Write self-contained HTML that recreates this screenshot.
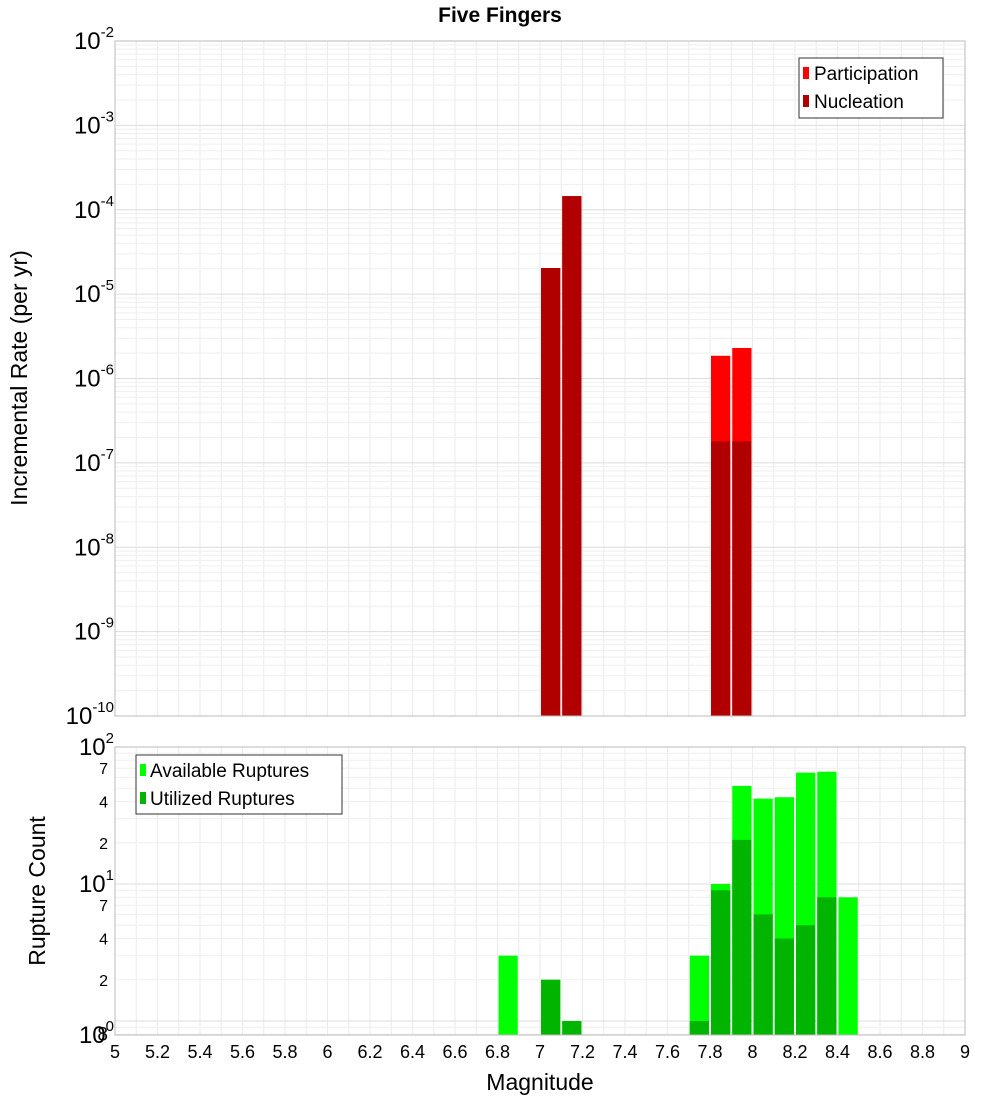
<!DOCTYPE html>
<html><head><meta charset="utf-8"><style>
body{margin:0;background:#fff;}
svg{display:block;font-family:"Liberation Sans","DejaVu Sans",sans-serif;}
</style></head><body>
<svg id="c" width="1000" height="1100" xmlns="http://www.w3.org/2000/svg">
<text x="500" y="22" text-anchor="middle" font-size="21" font-weight="bold">Five Fingers</text>
<g id="topPanel"></g>
<g id="botPanel"></g>
<text transform="translate(27,378) rotate(-90)" text-anchor="middle" font-size="23">Incremental Rate (per yr)</text>
<text transform="translate(45,891) rotate(-90)" text-anchor="middle" font-size="23">Rupture Count</text>
<text x="540" y="1090" text-anchor="middle" font-size="23">Magnitude</text>
<g>
<rect x="799" y="58" width="144" height="60" fill="#fff" stroke="#333"/>
<rect x="803" y="67" width="6" height="12" fill="#ff0000"/><text x="814" y="80" font-size="19">Participation</text>
<rect x="803" y="95" width="6" height="12" fill="#b00000"/><text x="814" y="108" font-size="19">Nucleation</text>
</g>
<g>
<rect x="136" y="755" width="206" height="59" fill="#fff" stroke="#333"/>
<rect x="140" y="764" width="6" height="12" fill="#00ff00"/><text x="150" y="777" font-size="19">Available Ruptures</text>
<rect x="140" y="792" width="6" height="12" fill="#00b400"/><text x="150" y="805" font-size="19">Utilized Ruptures</text>
</g>
</svg>
<script>
const rateMags=[7.05,7.15,7.85,7.95];
const participation=[2.04e-5,1.45e-4,1.86e-6,2.3e-6];
const nucleation=[2.04e-5,1.45e-4,1.8e-7,1.8e-7];
const countMags=[6.85,7.05,7.15,7.75,7.85,7.95,8.05,8.15,8.25,8.35,8.45];
const available=[3,2,1,3,10,52,42,43,65,66,8];
const utilized=[0,2,1,1,9,21,6,4,5,8,0];
const xTicks=[5,5.2,5.4,5.6,5.8,6,6.2,6.4,6.6,6.8,7,7.2,7.4,7.6,7.8,8,8.2,8.4,8.6,8.8,9];
const rateDecades=[-10,-9,-8,-7,-6,-5,-4,-3,-2];
const NS="http://www.w3.org/2000/svg";
const X0=115,X1=965;
const xs=m=>X0+(m-5)/4*(X1-X0);
const TY0=41,TY1=716;
const ty=v=>TY0+(-2-Math.log10(v))*(TY1-TY0)/8;
const BY0=747,BY1=1035,BD=137;
const by=v=>BY0+(2-Math.log10(v))*BD;
function mk(p,tag,a,name){const e=document.createElementNS(NS,tag);for(const k in a)e.setAttribute(k,a[k]);


p.appendChild(e);return e;}
const topG=document.getElementById('topPanel'),botG=document.getElementById('botPanel');
function panel(g,y0,y1){
 mk(g,'rect',{x:X0,y:y0,width:X1-X0,height:y1-y0,fill:'#fff'},'plot-area');
 for(let m=5;m<=9.001;m+=0.1)mk(g,'line',{x1:xs(m),x2:xs(m),y1:y0,y2:y1,stroke:'#ebebeb'},'x-grid-line');
}
panel(topG,TY0,TY1);panel(botG,BY0,BY1);
for(let d=-10;d<-2;d++)for(let k=1;k<10;k++){const y=ty(k*Math.pow(10,d));
 mk(topG,'line',{x1:X0,x2:X1,y1:y,y2:y,stroke:k==1?'#dcdcdc':'#efefef'},'y-grid-line');}
for(let d=-1;d<2;d++)for(let k=1;k<10;k++){const y=by(k*Math.pow(10,d));if(y>BY1||y<BY0)continue;
 mk(botG,'line',{x1:X0,x2:X1,y1:y,y2:y,stroke:k==1?'#dcdcdc':'#efefef'},'y-grid-line');}
const bw=xs(5.1)-X0-2;
rateMags.forEach((m,i)=>{
 const x=xs(m-0.05)+1;
 mk(topG,'rect',{x:x,y:ty(participation[i]),width:bw,height:TY1-ty(participation[i]),fill:'#ff0000'},'participation-bar');
 mk(topG,'rect',{x:x,y:ty(nucleation[i]),width:bw,height:TY1-ty(nucleation[i]),fill:'#b00000'},'nucleation-bar');
});
countMags.forEach((m,i)=>{
 const x=xs(m-0.05)+1;
 if(available[i]>0)mk(botG,'rect',{x:x,y:by(available[i]),width:bw,height:BY1-by(available[i]),fill:'#00ff00'},'available-bar');
 if(utilized[i]>0)mk(botG,'rect',{x:x,y:by(utilized[i]),width:bw,height:BY1-by(utilized[i]),fill:'#00b400'},'utilized-bar');
});
mk(topG,'rect',{x:X0,y:TY0,width:X1-X0,height:TY1-TY0,fill:'none',stroke:'#bbb'},'plot-border');
mk(botG,'rect',{x:X0,y:BY0,width:X1-X0,height:BY1-BY0,fill:'none',stroke:'#bbb'},'plot-border');
function pow(g,x,y,e,name){const t=mk(g,'text',{x:x,y:y,'text-anchor':'end','font-size':24},name);
 const a=document.createElementNS(NS,'tspan');a.textContent='10';t.appendChild(a);
 const b=document.createElementNS(NS,'tspan');b.setAttribute('dy','-12');b.setAttribute('font-size','15');b.textContent=e;t.appendChild(b);}
rateDecades.forEach(d=>pow(topG,114,ty(Math.pow(10,d))+8,String(d),'y-tick-label'));
pow(botG,114,by(100)+8,'2','y-tick-label');pow(botG,114,by(10)+8,'1','y-tick-label');pow(botG,114,by(1)+8+14,'0','y-tick-label');
[[70,'7'],[40,'4'],[20,'2'],[7,'7'],[4,'4'],[2,'2'],[0.8,'8']].forEach(([v,l])=>{
 const t=mk(botG,'text',{x:108,y:by(v)+6,'text-anchor':'end','font-size':v==0.8?19:16},'y-tick-label');t.textContent=l;});
xTicks.forEach(v=>{const t=mk(botG,'text',{x:xs(v),y:1058,'text-anchor':'middle','font-size':18},'x-tick-label');
 t.textContent=String(+v.toFixed(1));});
</script>
</body></html>
